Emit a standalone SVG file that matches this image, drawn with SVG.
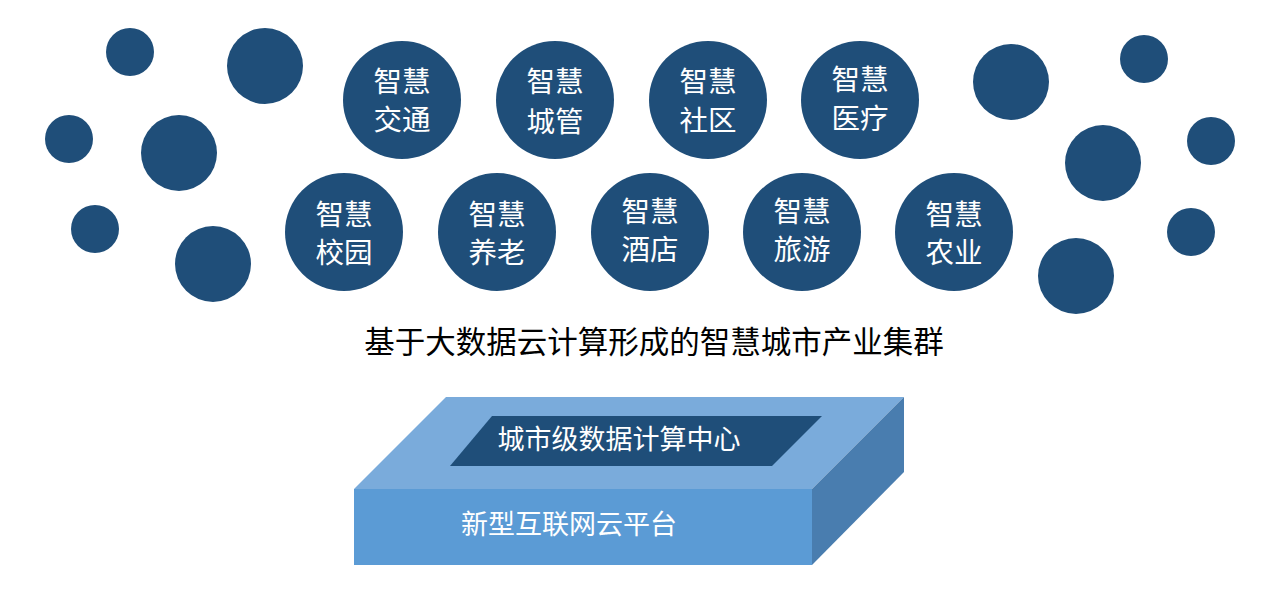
<svg xmlns="http://www.w3.org/2000/svg" width="1286" height="600" viewBox="0 0 1286 600">
<style>
.c{fill:#1F4E79}
.t{font-family:"Noto Sans CJK SC","Noto Sans",sans-serif;fill:#fff;font-size:28.5px;text-anchor:middle}
.b{font-family:"Noto Sans CJK SC","Noto Sans",sans-serif;fill:#fff;font-size:27px;text-anchor:middle}
.title{font-family:"Noto Sans CJK SC",sans-serif;fill:#000;font-size:30.5px;text-anchor:middle}
</style>
<rect width="1286" height="600" fill="#fff"/>
<g id="decor">
<circle class="c" cx="130" cy="52" r="24"/>
<circle class="c" cx="265" cy="66" r="38"/>
<circle class="c" cx="69" cy="139" r="24"/>
<circle class="c" cx="179" cy="153" r="38"/>
<circle class="c" cx="95" cy="229" r="24"/>
<circle class="c" cx="213" cy="264" r="38"/>
<circle class="c" cx="1011" cy="82" r="38"/>
<circle class="c" cx="1144" cy="59" r="24"/>
<circle class="c" cx="1103" cy="163" r="38"/>
<circle class="c" cx="1211" cy="141" r="24"/>
<circle class="c" cx="1191" cy="232" r="24"/>
<circle class="c" cx="1076" cy="276" r="38"/>
</g>
<g id="n1"><circle class="c" cx="402" cy="100" r="59"/><text class="t" x="402" y="92">智慧</text><text class="t" x="402" y="130">交通</text></g>
<g id="n2"><circle class="c" cx="555" cy="100" r="59"/><text class="t" x="555" y="92">智慧</text><text class="t" x="555" y="132">城管</text></g>
<g id="n3"><circle class="c" cx="708" cy="100" r="59"/><text class="t" x="708" y="92">智慧</text><text class="t" x="708" y="131">社区</text></g>
<g id="n4"><circle class="c" cx="860" cy="100" r="59"/><text class="t" x="860" y="90">智慧</text><text class="t" x="860" y="129">医疗</text></g>
<g id="n5"><circle class="c" cx="344" cy="232" r="59"/><text class="t" x="344" y="225">智慧</text><text class="t" x="344" y="263">校园</text></g>
<g id="n6"><circle class="c" cx="497" cy="232" r="59"/><text class="t" x="497" y="225">智慧</text><text class="t" x="497" y="263">养老</text></g>
<g id="n7"><circle class="c" cx="650" cy="232" r="59"/><text class="t" x="650" y="222">智慧</text><text class="t" x="650" y="260">酒店</text></g>
<g id="n8"><circle class="c" cx="802" cy="232" r="59"/><text class="t" x="802" y="222">智慧</text><text class="t" x="802" y="260">旅游</text></g>
<g id="n9"><circle class="c" cx="954" cy="232" r="59"/><text class="t" x="954" y="225">智慧</text><text class="t" x="954" y="263">农业</text></g>
<g id="title"><text class="title" x="654" y="353">基于大数据云计算形成的智慧城市产业集群</text></g>
<g id="platform">
<polygon points="354,489 446,397 904,397 812,489" fill="#7AABDB"/>
<polygon points="812,489 904,397 904,472 812,565" fill="#497DAF"/>
<rect x="354" y="489" width="458" height="76" fill="#5B9BD5"/>
<polygon points="450,466 492,416 822,416 772,466" fill="#1F4E79"/>
<text class="b" x="619" y="449">城市级数据计算中心</text>
<text class="b" x="569" y="534">新型互联网云平台</text>
</g>
</svg>
